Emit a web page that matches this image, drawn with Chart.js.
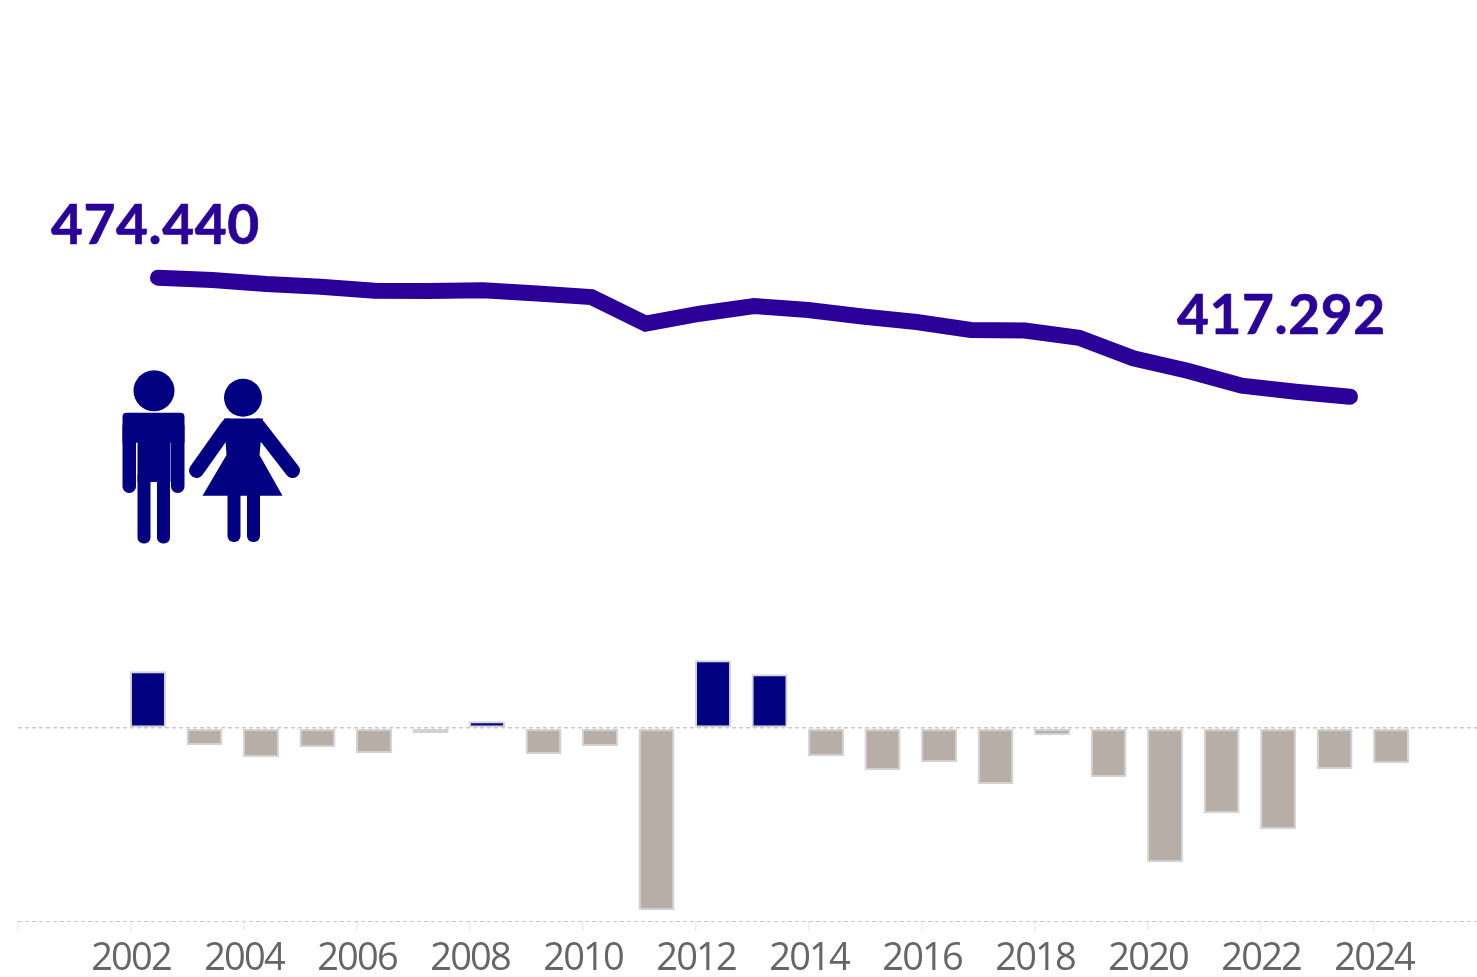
<!DOCTYPE html>
<html>
<head>
<meta charset="utf-8">
<style>html,body{margin:0;padding:0;background:#fff;overflow:hidden}canvas{display:block}</style>
<script src="https://cdn.jsdelivr.net/npm/chart.js@4"></script>
</head>
<body>
<canvas id="c" width="1477" height="977"></canvas>
<script>
const years = [2002,2003,2004,2005,2006,2007,2008,2009,2010,2011,2012,2013,2014,2015,2016,2017,2018,2019,2020,2021,2022,2023,2024];
const population = [474.440,473.38,471.41,470.12,468.2,468.05,468.39,466.85,465.17,452.35,457.15,460.85,458.93,455.81,453.17,449.33,449.08,445.63,435.74,429.78,422.58,419.7,417.292];
const change = [3840,-1145,-1955,-1280,-1685,-335,470,-1750,-1215,-12260,4580,3640,-1885,-2830,-2290,-3770,-470,-3300,-9025,-5725,-6800,-2760,-2360];
const tickYears = [2002,2004,2006,2008,2010,2012,2014,2016,2018,2020,2022,2024];

const LINE = '#2a0098', NAVY = '#000080', TAUPE = '#b8aea8', EDGE = '#d3d3d3';

const overlay = {
  id: 'overlay',
  beforeDraw(chart){
    const c = chart.ctx;
    c.fillStyle = '#fff'; c.fillRect(0,0,chart.width,chart.height);
    c.letterSpacing = '-1.8px';
  },
  afterDraw(chart){
    const c = chart.ctx;
    const pts = chart.getDatasetMeta(1).data;
    c.save();
    c.letterSpacing = '0.6px';
    c.fillStyle = LINE;
    c.strokeStyle = LINE;
    c.lineWidth = 0.7;
    c.font = 'bold 55px Lato';
    c.textBaseline = 'alphabetic';
    c.textAlign = 'left';
    const a = pts[0], b = pts[pts.length-1];
    const t0 = population[0].toFixed(3), t1 = population[population.length-1].toFixed(3);
    c.fillText(t0, a.x-107, a.y-33.7); c.strokeText(t0, a.x-107, a.y-33.7);
    c.fillText(t1, b.x-173, b.y-62.7); c.strokeText(t1, b.x-173, b.y-62.7);
    c.restore();
    drawPeople(c);
  }
};

function drawPeople(c){
  c.save();
  c.fillStyle = NAVY; c.strokeStyle = NAVY; c.lineCap = 'round'; c.lineJoin = 'round';
  // man
  c.beginPath(); c.arc(154,390.7,20.5,0,Math.PI*2); c.fill();
  c.beginPath(); c.roundRect(122.5,412.7,62,30,[4,4,0,0]); c.fill();
  c.beginPath(); c.roundRect(122.5,425,13.5,68,[0,0,6.5,6.5]); c.fill();
  c.beginPath(); c.roundRect(171,425,13.5,68,[0,0,6.5,6.5]); c.fill();
  c.fillRect(137.5,425,33,57);
  c.beginPath(); c.roundRect(137.5,470,13,73.5,6); c.fill();
  c.beginPath(); c.roundRect(157,470,13,73.5,6); c.fill();
  // woman
  c.beginPath(); c.arc(243,397.7,19,0,Math.PI*2); c.fill();
  c.beginPath();
  c.moveTo(224,418.5); c.lineTo(263,418.5); c.lineTo(259.5,455);
  c.lineTo(282.5,495.7); c.lineTo(202.5,495.7); c.lineTo(226.5,455); c.closePath(); c.fill();
  c.lineWidth = 15;
  c.beginPath(); c.moveTo(228,426); c.lineTo(196.5,470.5); c.stroke();
  c.beginPath(); c.moveTo(258,426); c.lineTo(292.5,470.5); c.stroke();
  c.beginPath(); c.roundRect(227.5,480,13,62,6); c.fill();
  c.beginPath(); c.roundRect(247,480,13,62,6); c.fill();
  c.restore();
}

new Chart(document.getElementById('c'), {
  data: {
    datasets: [
      {
        type: 'bar',
        data: years.map((y,i)=>({x:y+0.3, y:change[i]})),
        xAxisID: 'x', yAxisID: 'yBars',
        backgroundColor: change.map(v=>v>=0?NAVY:TAUPE),
        borderColor: EDGE, borderWidth: 2, borderSkipped: false,
        grouped: false, categoryPercentage: 1, barPercentage: 0.637, order: 2
      },
      {
        type: 'line',
        data: years.map((y,i)=>({x:y, y:population[i]})),
        xAxisID: 'xLine', yAxisID: 'yLine',
        borderColor: LINE, borderWidth: 16, borderCapStyle: 'round', borderJoinStyle: 'miter',
        pointRadius: 0, tension: 0, fill: false, order: 1
      }
    ]
  },
  options: {
    responsive: false, animation: false,
    layout: { padding: { left: 18, right: 0, top: 0, bottom: 0 } },
    plugins: { legend: {display:false}, tooltip: {enabled:false}, title:{display:false} },
    scales: {
      x: {
        type: 'linear', position: 'bottom', min: 2000, max: 2025.82, offset: false,
        border: { display: false },
        grid: { offset: false, drawOnChartArea: false, drawTicks: true, tickLength: 10, color: '#eeeeee', lineWidth: 1.5 },
        ticks: {
          stepSize: 2, includeBounds: false, autoSkip: false, maxRotation: 0, minRotation: 0,
          color: '#666666', font: { family: '"Open Sans"', size: 38 }, padding: 5,
          callback: v => tickYears.includes(v) ? String(v) : ''
        },
        afterFit(s){ s.height = 55.7; }
      },
      xLine: { type: 'linear', display: false, offset: false, min: 1999.416, max: 2026.344 },
      yBars: {
        type: 'linear', position: 'left', min: -13000, max: 49040,
        grid: { drawTicks: false, color: '#c8c8c8',
                lineWidth: ctx => ctx.tick && ctx.tick.value === 0 ? 1.5 : 1 },
        border: { display:false, dash: [4,3] },
        ticks: { display: false },
        afterBuildTicks(s){ s.ticks = [{value:-13000},{value:0}]; },
        afterFit(s){ s.width = 0; }
      },
      yLine: { type: 'linear', display: false, min: 165.39, max: 607.79 }
    }
  },
  plugins: [overlay]
});
</script>
</body>
</html>
